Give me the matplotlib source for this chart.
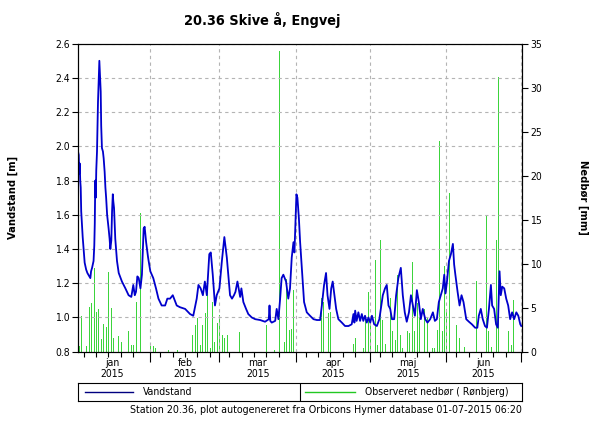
import numpy as np
import pandas as pd
import matplotlib
matplotlib.use('Agg')
import matplotlib.pyplot as plt
import matplotlib.dates as mdates

base = pd.Timestamp('2015-01-01')

# vandstand, tid i dage efter 1. jan 2015
level_day = [1.7, 2.0, 2.2, 2.4, 2.6, 2.8, 3.0, 3.3, 3.6, 4.4, 5.0, 5.5, 6.3, 6.7, 7.0, 7.4,
             8.0, 8.3, 8.5, 8.7, 8.9, 9.1, 9.4, 9.8, 10.1, 10.35, 10.6, 10.9, 11.1, 11.4,
             11.8, 12.1, 12.5, 12.8, 13.1, 13.5, 14.1, 14.5, 14.8, 15.2, 15.5, 15.8, 16.0,
             16.3, 16.8, 17.5, 18.2, 19.5, 20.9, 22.2, 23.3, 24.1, 24.7, 25.2, 25.75, 26.3,
             27.0, 27.6, 28.3, 28.7, 29.3, 30.1, 31.0, 32.2, 33.3, 34.3, 35.6, 37.0, 37.9,
             39.0, 40.1, 40.9, 41.7, 43.0, 45.1, 47.1, 48.4, 49.8, 50.5, 51.4, 52.3, 53.1,
             53.9, 54.9, 55.5, 56.3, 57.2, 57.9, 59.0, 60.0, 61.0, 62.0, 62.6, 63.3, 64.1,
             64.9, 65.5, 66.3, 66.8, 67.4, 67.9, 68.7, 69.8, 70.7, 72.1, 73.5, 75.5, 77.5,
             79.0, 79.3, 79.6, 80.2, 81.6, 82.2, 82.9, 83.6, 84.2, 84.9, 86.0, 86.9, 87.6,
             88.3, 89.0, 89.4, 89.8, 90.2, 90.6, 91.2, 91.7, 92.4, 93.3, 94.4, 95.7, 97.1,
             98.5, 99.8, 100.5, 101.4, 102.2, 102.8, 103.6, 104.3, 104.9, 105.6, 106.3,
             107.2, 108.6, 109.9, 111.3, 112.6, 113.3, 113.7, 114.0, 114.6, 115.3, 116.0,
             116.7, 117.3, 118.0, 118.7, 119.4, 120.1, 120.8, 121.7, 122.8, 123.8, 124.4,
             125.2, 126.1, 126.8, 127.5, 128.2, 128.9, 129.8, 130.6, 131.5, 132.5, 133.3,
             134.1, 134.9, 135.8, 136.6, 137.4, 138.2, 139.0, 139.8, 140.6, 141.4, 142.4,
             143.3, 144.4, 145.5, 146.3, 147.1, 147.9, 148.7, 149.5, 150.1, 150.6, 151.2,
             152.0, 152.8, 153.6, 154.1, 154.6, 155.5, 156.3, 157.1, 157.9, 159.0, 160.1,
             161.3, 162.6, 163.5, 164.1, 164.9, 165.7, 166.6, 167.4, 168.2, 169.0, 169.5,
             170.3, 171.1, 171.8, 172.5, 173.0, 173.6, 174.4, 175.2, 176.0, 176.8, 177.6,
             178.4, 179.3, 180.1, 180.9, 181.3]
level_m = [1.97, 1.95, 1.84, 1.90, 1.80, 1.76, 1.62, 1.55, 1.47, 1.32, 1.28, 1.26, 1.24, 1.23, 1.27, 1.29,
           1.33, 1.42, 1.55, 1.80, 1.70, 1.86, 1.97, 2.26, 2.40, 2.50, 2.42, 2.32, 2.12, 1.99,
           1.97, 1.93, 1.85, 1.76, 1.70, 1.60, 1.52, 1.46, 1.40, 1.45, 1.62, 1.72, 1.68,
           1.64, 1.46, 1.33, 1.26, 1.21, 1.17, 1.13, 1.12, 1.19, 1.13, 1.15, 1.24, 1.23,
           1.17, 1.25, 1.52, 1.53, 1.44, 1.35, 1.27, 1.23, 1.17, 1.11, 1.07, 1.07, 1.11,
           1.11, 1.13, 1.10, 1.07, 1.06, 1.05, 1.02, 1.01, 1.11, 1.19, 1.17, 1.13, 1.21,
           1.13, 1.37, 1.38, 1.25, 1.07, 1.13, 1.17, 1.33, 1.47, 1.35, 1.25, 1.13, 1.11,
           1.13, 1.15, 1.21, 1.17, 1.12, 1.17, 1.09, 1.05, 1.02, 1.00, 0.99, 0.985, 0.975,
           0.99, 1.07, 0.98, 0.97, 0.98, 1.05, 0.99, 1.11, 1.23, 1.25, 1.21, 1.11, 1.17,
           1.35, 1.44, 1.38, 1.56, 1.72, 1.70, 1.58, 1.44, 1.29, 1.09, 1.03, 1.01, 0.99,
           0.985, 0.985, 1.07, 1.19, 1.26, 1.13, 1.05, 1.17, 1.21, 1.13, 1.05,
           0.99, 0.97, 0.95, 0.95, 0.96, 1.02, 0.97, 1.04, 0.98, 1.03, 0.98,
           1.02, 0.98, 1.01, 0.97, 1.00, 0.97, 1.01, 0.96, 0.95, 0.99, 1.05,
           1.13, 1.17, 1.19, 1.07, 1.05, 0.99, 0.99, 1.13, 1.23, 1.29, 1.13,
           1.03, 0.975, 1.03, 1.13, 1.07, 1.01, 1.16, 1.09, 0.99, 1.05, 0.99,
           0.97, 0.99, 1.03, 0.98, 0.99, 1.09, 1.13, 1.17, 1.25, 1.14, 1.21,
           1.33, 1.37, 1.43, 1.31, 1.25, 1.15, 1.07, 1.13, 1.09, 0.99, 0.975,
           0.96, 0.94, 0.94, 1.01, 1.05, 0.99, 0.95, 0.94, 1.05, 1.19, 1.07,
           1.05, 0.96, 0.94, 1.27, 1.13, 1.18, 1.17, 1.11, 1.07, 0.99, 1.03,
           0.99, 1.03, 1.01, 0.96, 0.95]

# nedbør pr. døgn
rain_day = [2, 3, 5, 6, 7, 8, 9, 10, 11, 12, 13, 14, 15, 16, 18, 19, 22, 23, 24, 25, 27,
            31, 32, 33, 38, 42, 48, 49, 50, 51, 52, 53, 54, 55, 56, 57, 58, 59, 60, 61, 62,
            67, 78, 81, 83, 85, 86, 87, 88, 89, 100, 101, 103, 104, 113, 114, 117, 118,
            119, 120, 122, 123, 124, 125, 126, 128, 129, 130, 131, 132, 133, 135, 136,
            137, 138, 139, 140, 142, 143, 145, 146, 147, 148, 149, 150, 151, 152, 155,
            156, 158, 163, 167, 168, 169, 171, 172, 176, 177, 178]
rain_mm = [0.7, 4.1, 0.6, 5.1, 5.5, 9.5, 4.5, 4.9, 1.4, 3.1, 2.8, 9.0, 5.0, 1.6, 1.8, 1.1, 2.4, 0.8, 0.8, 5.6, 15.8,
           0.6, 0.6, 0.4, 0.2, 0.2, 1.9, 3.0, 3.8, 0.8, 3.0, 4.4, 8.5, 0.4, 5.6, 1.1, 3.3, 4.2, 1.9, 1.5, 1.9,
           2.2, 3.0, 0.2, 34.2, 1.1, 8.3, 2.5, 2.6, 7.0, 6.1, 5.7, 4.4, 4.5, 0.9, 1.5, 0.4, 3.8,
           6.8, 3.0, 10.4, 0.8, 12.7, 3.6, 0.9, 6.1, 2.3, 1.3, 8.7, 1.9, 0.4, 2.3, 2.1,
           10.2, 2.3, 5.5, 3.8, 4.9, 3.8, 0.4, 0.4, 2.5, 23.9, 2.3, 9.7, 4.9, 18.0, 3.0,
           1.5, 0.5, 8.0, 15.5, 2.3, 0.5, 12.7, 31.2, 2.3, 0.8, 5.9]

months = ['jan', 'feb', 'mar', 'apr', 'maj', 'jun']
year = '2015'

plt.rcParams['font.family'] = 'DejaVu Sans'
plt.rcParams['font.stretch'] = 'condensed'

blue = '#0000cc'
green = '#3cd43c'
grid_c = '#b4b4b4'

fig = plt.figure(figsize=(6, 4.25), dpi=100)
ax = fig.add_axes([0.13, 0.1725, 0.74, 0.7247])
ax2 = ax.twinx()
ax.set_zorder(ax2.get_zorder() + 1)
ax.patch.set_visible(False)

t_level = base + pd.to_timedelta(level_day, unit='D')
t_rain = base + pd.to_timedelta(rain_day, unit='D')

ax2.vlines(t_rain, 0, rain_mm, color=green, lw=0.72, antialiased=False)
ax.plot(t_level, level_m, color=blue, lw=1.3)

ax.set_xlim(base + pd.Timedelta(days=1.7), base + pd.Timedelta(days=181.6))
ax.set_ylim(0.8, 2.6)
ax.set_yticks(np.arange(0.8, 2.61, 0.2))
ax.yaxis.set_major_formatter(plt.FormatStrFormatter('%.1f'))
ax2.set_ylim(0, 35)
ax2.set_yticks(range(0, 36, 5))

ax.xaxis.set_major_locator(mdates.MonthLocator())
ax.xaxis.set_minor_locator(mdates.DayLocator(bymonthday=[5, 10, 15, 20, 25]))
ax.xaxis.set_major_formatter(plt.NullFormatter())

ax.grid(True, which='major', color=grid_c, linestyle=(0, (3, 3)), lw=0.8)

ax.tick_params(axis='y', direction='out', length=4, width=0.8, labelsize=7.5, pad=2)
ax2.tick_params(axis='y', direction='out', length=4, width=0.8, labelsize=7.5, pad=2)
ax.tick_params(axis='x', which='major', direction='out', length=7, width=0.8)
ax.tick_params(axis='x', which='minor', direction='out', length=3.5, width=0.8)

for m, name in enumerate(months):
    start = pd.Timestamp(2015, m + 1, 1)
    mid = start + pd.Timedelta(days=start.days_in_month / 2)
    ax.text(mdates.date2num(mid), -0.022, name + '\n' + year, transform=ax.get_xaxis_transform(),
            ha='center', va='top', fontsize=7.5, linespacing=1.05)

ax.set_ylabel('Vandstand [m]', fontsize=8, fontweight='bold')
ax.yaxis.set_label_coords(-0.135, 0.5)
ax2.set_ylabel('Nedbør [mm]', fontsize=8, fontweight='bold', rotation=270)
ax2.yaxis.set_label_coords(1.15, 0.5)

fig.text(262 / 600, 1 - 20 / 425, '20.36 Skive å, Engvej', ha='center', va='center',
         fontsize=10.4, fontweight='bold')

# legend box
lg = fig.add_axes([0.13, 1 - 401 / 425, 0.74, 18 / 425])
lg.set_xlim(0, 1)
lg.set_ylim(0, 1)
lg.set_xticks([])
lg.set_yticks([])
lg.plot([0.5, 0.5], [0, 1], color='black', lw=0.8)
lg.plot([0.016, 0.124], [0.5, 0.5], color='#000080', lw=1)
lg.text(0.146, 0.5, 'Vandstand', va='center', fontsize=7.5)
lg.plot([0.511, 0.624], [0.5, 0.5], color='#22c822', lw=1)
lg.text(0.646, 0.5, 'Observeret nedbør ( Rønbjerg)', va='center', fontsize=7.5, clip_on=True)

fig.text(522 / 600, 1 - 410 / 425,
         'Station 20.36, plot autogenereret fra Orbicons Hymer database 01-07-2015 06:20',
         ha='right', va='center', fontsize=7.7)

fig.savefig('out.png', dpi=100)
